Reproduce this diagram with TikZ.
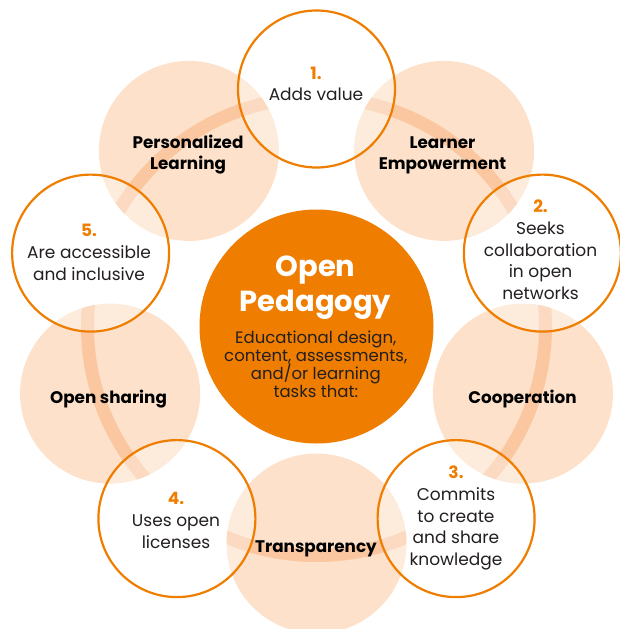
\documentclass[tikz,border=0pt]{standalone}
\usepackage{fontspec}
\setmainfont{Poppins}
\definecolor{opor}{HTML}{EF7D00}
\definecolor{peachc}{HTML}{FDE1CA}
\definecolor{bandc}{HTML}{FAC7A0}
\definecolor{txtc}{HTML}{231F20}
\newcommand\lstrut{\rule[-0.3em]{0pt}{1.1em}}
\begin{document}
\begin{tikzpicture}[x=1pt,y=-1pt,
  peach/.style={circle, fill=peachc, minimum size=180pt, inner sep=0pt},
  wcirc/.style={circle, draw=opor, line width=2.2pt, fill=white, fill opacity=0.35, minimum size=157pt, inner sep=0pt},
  hub/.style={circle, fill=opor, minimum size=234pt, inner sep=0pt},
  band/.style={draw=bandc, line width=13pt},
  plabel/.style={align=center, inner sep=0pt, text=black, font=\fontsize{16.8}{21}\selectfont\bfseries},
  wlabel/.style={align=center, inner sep=0pt, text=txtc, font=\fontsize{17}{21.7}\selectfont},
  title/.style={align=center, inner sep=0pt, text=white, font=\fontsize{29}{35}\selectfont\bfseries},
  desc/.style={align=center, inner sep=0pt, text=txtc, font=\fontsize{16.5}{18.2}\selectfont}]
\useasboundingbox (0,0) rectangle (620,629);
\coordinate (C) at (316.5,326.5);
% peach circles
\node[peach] (p1) at (188.9,150.9) {};
\node[peach] (p2) at (444.1,150.9) {};
\node[peach] (p3) at (522.9,393.6) {};
\node[peach] (p4) at (316.5,543.5) {};
\node[peach] (p5) at (110.1,393.6) {};
% ring band, only inside peach circles
\begin{scope}
\clip (p1.center) circle[radius=90pt] (p2.center) circle[radius=90pt]
      (p3.center) circle[radius=90pt] (p4.center) circle[radius=90pt]
      (p5.center) circle[radius=90pt];
\draw[band] (C) circle[radius=229pt];
\end{scope}
% white circles
\node[wcirc] (w1) at (316.5,89) {};
\node[wcirc] (w2) at (542.4,253.1) {};
\node[wcirc] (w3) at (456.1,518.6) {};
\node[wcirc] (w4) at (176.9,518.6) {};
\node[wcirc] (w5) at (90.6,253.1) {};
% hub
\node[hub] (hub) at (C) {};
% peach labels
\node[plabel] (tp1) at (188,154.6) {\lstrut Personalized\\Learning\lstrut};
\node[plabel] (tp2) at (442.5,154.6) {\lstrut Learner\\Empowerment\lstrut};
\node[plabel] (tp3) at (522.5,398.8) {\lstrut Cooperation\lstrut};
\node[plabel] (tp4) at (316,548.5) {\lstrut Transparency\lstrut};
\node[plabel] (tp5) at (108.5,398.8) {\lstrut Open sharing\lstrut};
% white labels
\node[wlabel] (tw1) at (316,85.6) {\lstrut{\color{opor}\bfseries 1.}\\Adds value\lstrut};
\node[wlabel] (tw2) at (540.5,251.9) {\lstrut{\color{opor}\bfseries 2.}\\Seeks\\collaboration\\in open\\networks\lstrut};
\node[wlabel] (tw3) at (456,517.8) {\lstrut{\color{opor}\bfseries 3.}\\Commits\\to create\\and share\\knowledge\lstrut};
\node[wlabel] (tw4) at (176,522.4) {\lstrut{\color{opor}\bfseries 4.}\\Uses open\\licenses\lstrut};
\node[wlabel] (tw5) at (89,254.1) {\lstrut{\color{opor}\bfseries 5.}\\Are accessible\\and inclusive\lstrut};
% hub texts
\node[title] (ttl) at (315.5,287) {\lstrut Open\\Pedagogy\lstrut};
\node[desc] (tds) at (315.8,366.5) {\lstrut Educational design,\\content, assessments,\\and/or learning\\tasks that:\lstrut};
\end{tikzpicture}
\end{document}
